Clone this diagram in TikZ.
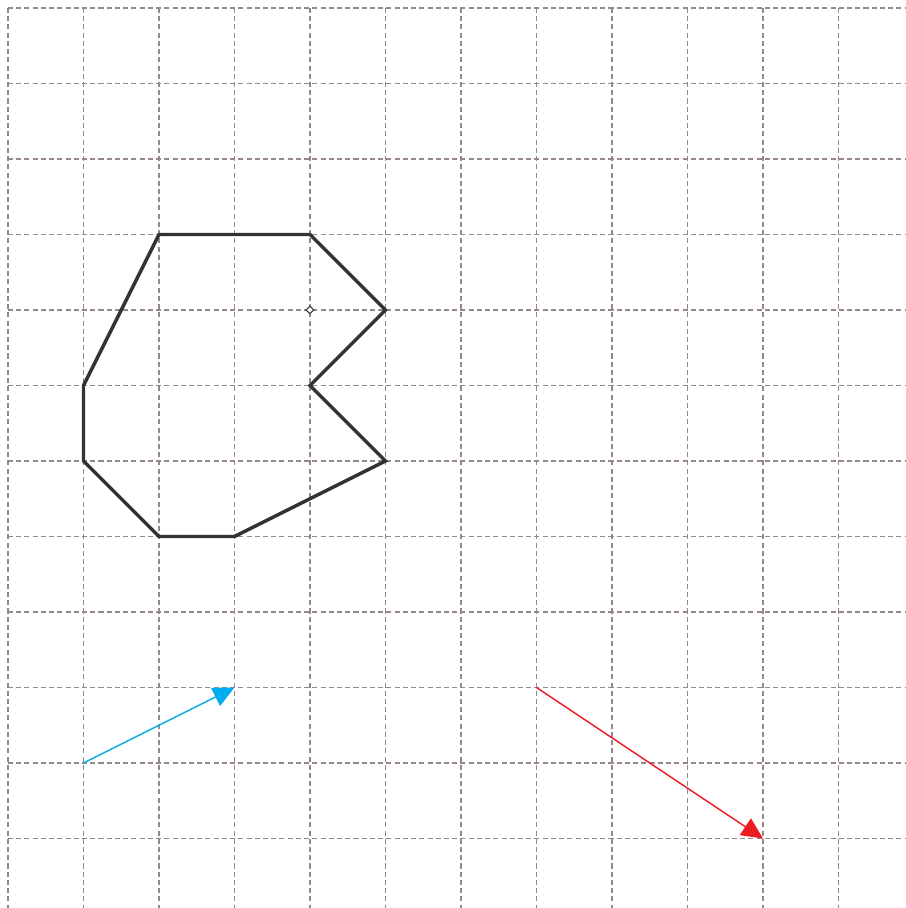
\documentclass[tikz,border=0pt]{standalone}
\usetikzlibrary{arrows.meta,shapes.geometric}
\definecolor{gridc}{RGB}{150,136,136}
\definecolor{polyc}{RGB}{51,51,51}
\definecolor{bluec}{RGB}{0,174,239}
\definecolor{redc}{RGB}{237,28,36}
\tikzset{
  gridline/.style={draw=gridc,line width=0.4pt,dash pattern=on 1.9pt off 1.2pt},
  polyline/.style={draw=polyc,line width=1.3pt,line join=miter},
  vecarrow/.style={line width=0.55pt,-{Triangle[length=8pt,width=7.5pt]}},
  pt/.style={diamond,draw=polyc,line width=0.4pt,inner sep=0pt,minimum size=3pt,fill=white}
}
\begin{document}
\begin{tikzpicture}
\useasboundingbox (-0.106,0.106) rectangle (11.894,-11.921);
\foreach \i in {0,...,11}{
  \draw[gridline] (\i,0) -- (\i,-11.95);
  \draw[gridline] (0,-\i) -- (11.95,-\i);
}
\coordinate (p1) at (2,-3);
\coordinate (p2) at (4,-3);
\coordinate (p3) at (5,-4);
\coordinate (p4) at (4,-5);
\coordinate (p5) at (5,-6);
\coordinate (p6) at (3,-7);
\coordinate (p7) at (2,-7);
\coordinate (p8) at (1,-6);
\coordinate (p9) at (1,-5);
\draw[polyline] (p1) -- (p2) -- (p3) -- (p4) -- (p5) -- (p6) -- (p7) -- (p8) -- (p9) -- cycle;
\node[pt] (c) at (4,-4) {};
\coordinate (b1) at (1,-10);
\coordinate (b2) at (3,-9);
\draw[vecarrow,draw=bluec,fill=bluec] (b1) -- (b2);
\coordinate (r1) at (7,-9);
\coordinate (r2) at (10,-11);
\draw[vecarrow,draw=redc,fill=redc] (r1) -- (r2);
\end{tikzpicture}
\end{document}
